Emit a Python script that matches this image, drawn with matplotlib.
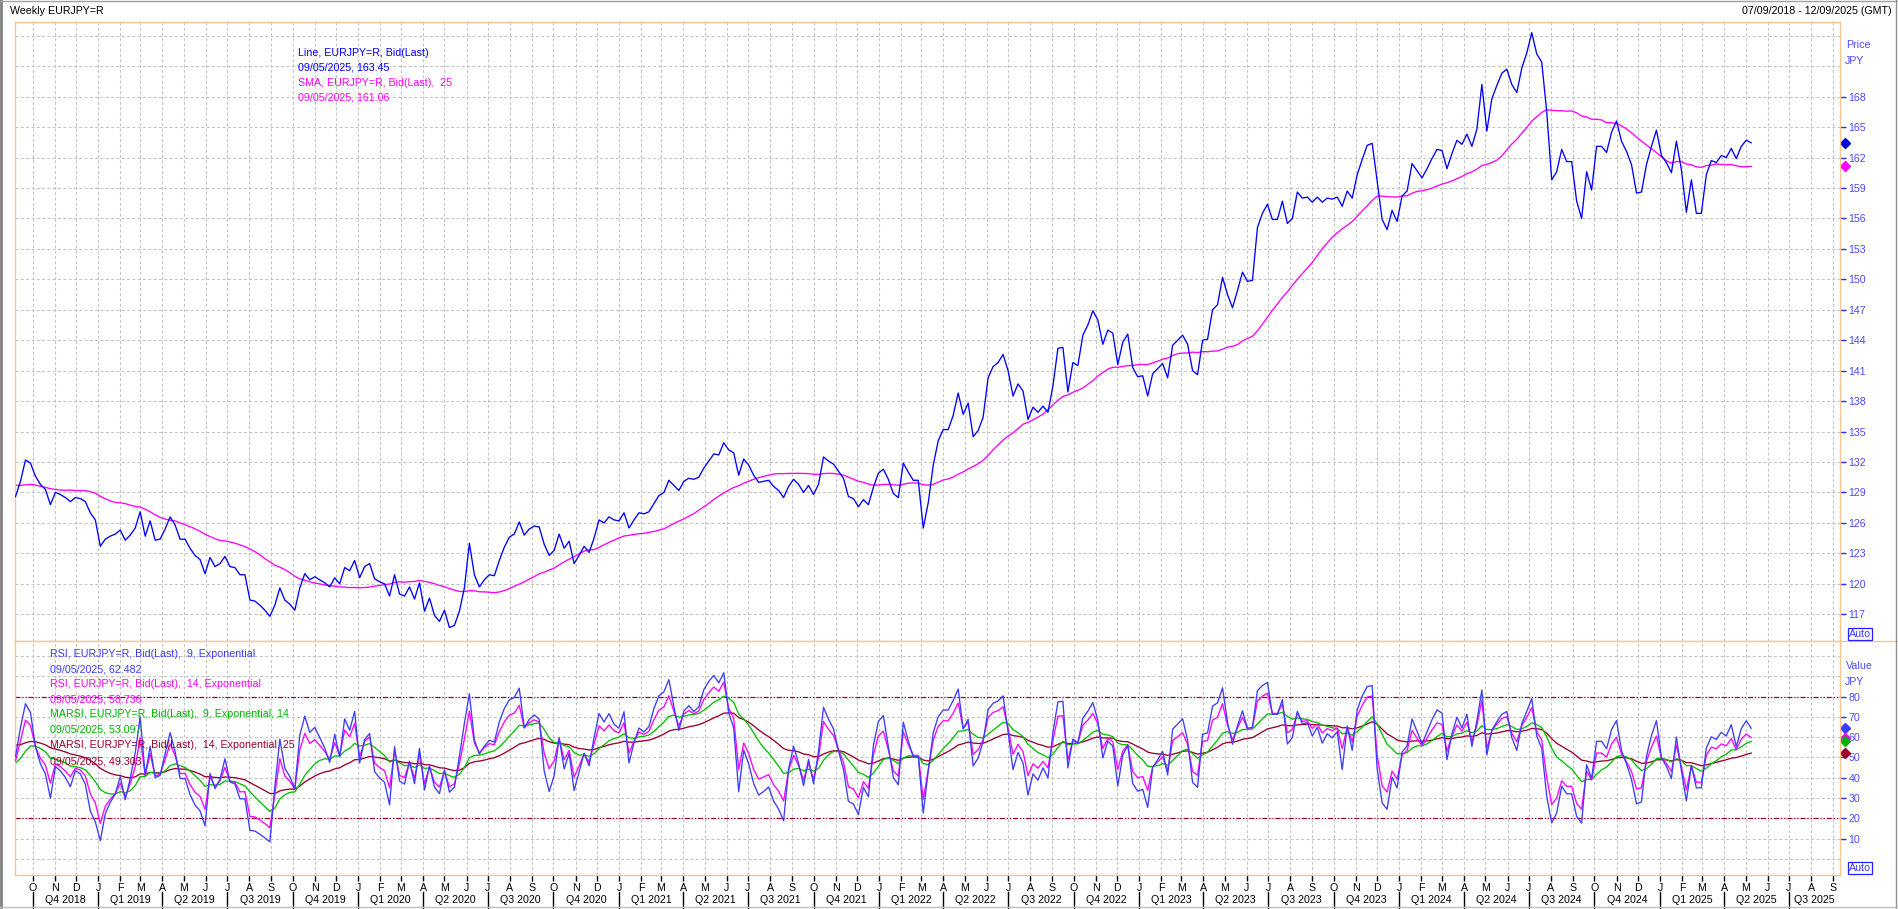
import numpy as np
import pandas as pd
import matplotlib
matplotlib.use("Agg")
import matplotlib.pyplot as plt
from matplotlib.transforms import blended_transform_factory
from matplotlib.lines import Line2D

plt.rcParams['font.family'] = ['Liberation Sans', 'DejaVu Sans']

# ---------------- data ----------------
start_date = "2018-09-07"
warmup_start = "2018-03-16"
# 25 weekly closes before the visible range (needed by SMA 25 / RSI)
warmup_prices = [130.3, 130.5, 131.0, 130.8, 132.3, 132.6, 132.1, 131.1, 130.5, 130.7,
                 128.9, 127.6, 129.8, 128.4, 128.3, 129.4, 130.3, 131.2, 130.6, 129.6,
                 128.8, 126.4, 126.0, 128.7, 128.8]
# weekly EURJPY closes, 07/09/2018 .. 09/05/2025
prices = [
    128.6, 130.1, 132.2, 131.9, 130.6, 129.8, 129.3, 127.8, 129.0, 128.8,
    128.5, 128.1, 128.5, 128.4, 128.1, 127.0, 126.3,
    123.7, 124.4, 124.7, 124.9, 125.3, 124.3, 124.8, 125.5, 127.1, 124.7,
    126.2, 124.3, 124.4, 125.4, 126.6, 125.8, 124.4, 124.4, 123.5, 122.8,
    122.4, 121.0, 122.6, 121.7, 122.0, 122.7, 121.7, 121.6, 120.9, 120.9,
    118.4, 118.3, 117.9, 117.4, 116.8, 117.9, 119.6, 118.4, 118.0, 117.4,
    119.6, 121.0, 120.4, 120.7, 120.4, 120.1, 119.7, 120.6, 120.0, 121.6,
    121.3, 122.3, 120.6, 121.7, 122.0, 120.5, 120.2, 120.0, 118.8, 120.9,
    119.0, 118.8, 119.7, 118.5, 120.1, 117.3, 118.6, 116.9, 116.3, 117.4,
    115.7, 115.9, 117.3, 119.6, 124.0, 120.9, 119.7, 120.4, 120.9, 120.8,
    122.3, 123.6, 124.6, 124.9, 126.1, 124.8, 125.4, 125.7, 125.6, 123.9,
    122.8, 123.3, 124.9, 123.5, 124.2, 122.0, 122.8, 123.7, 123.1, 124.5,
    126.3, 126.0, 126.6, 126.3, 126.2, 127.0, 125.5, 126.3, 127.0, 126.9,
    127.1, 127.9, 128.7, 129.0, 130.2, 129.7, 129.2, 130.1, 130.4, 130.3,
    130.5, 131.4, 132.1, 132.8, 132.7, 133.9, 133.2, 132.9, 130.7, 132.3,
    131.7, 130.7, 130.0, 130.1, 130.2, 129.6, 129.2, 128.5, 129.6, 130.3,
    129.8, 129.0, 129.7, 128.8, 129.8, 132.5, 132.1, 131.8, 131.1, 130.4,
    128.6, 128.4, 127.6, 128.3, 127.8, 129.5, 130.9, 131.3, 130.3, 128.9,
    128.5, 131.9, 131.0, 130.2, 130.2, 125.5, 128.0, 131.7, 134.1, 135.2,
    135.2, 136.6, 138.8, 136.7, 137.8, 134.5, 135.1, 136.4, 140.3, 141.4,
    141.8, 142.6, 141.0, 138.5, 139.7, 139.0, 136.2, 137.4, 136.9, 137.5,
    136.9, 139.5, 143.2, 143.3, 138.9, 141.8, 141.5, 144.5, 145.5, 146.9,
    146.0, 143.6, 145.0, 144.7, 141.6, 143.8, 144.6, 141.3, 140.4, 140.5,
    138.5, 140.7, 141.2, 141.7, 140.3, 143.5, 144.0, 144.5, 143.6, 141.0,
    140.6, 144.0, 144.1, 147.0, 147.5, 150.2, 148.5, 147.2, 148.9, 150.7,
    149.8, 149.9, 155.1, 156.5, 157.4, 155.9, 155.9, 157.7, 155.5, 156.0,
    158.6, 158.0, 158.1, 157.6, 158.1, 157.6, 158.0, 157.9, 158.1, 157.2,
    158.7, 158.0, 160.3, 161.8, 163.2, 163.4, 159.7, 155.9, 154.9, 156.8,
    155.7, 158.2, 158.7, 161.4, 160.7, 160.0, 160.9, 161.9, 162.8, 162.7,
    160.9, 162.4, 163.7, 163.3, 164.3, 163.1, 164.8, 169.2, 164.6, 167.8,
    169.1, 170.3, 170.7, 169.2, 168.4, 170.8, 172.3, 174.3, 172.2, 171.4,
    166.5, 159.8, 160.6, 162.8, 161.6, 161.6, 157.7, 156.0, 160.6, 158.8,
    163.1, 163.1, 162.5, 164.5, 165.6, 163.6, 162.6, 161.3, 158.5, 158.6,
    161.3, 163.1, 164.7, 162.2, 161.5, 160.5, 163.6, 160.8, 156.6, 159.8,
    156.5, 156.5, 160.3, 161.7, 161.5, 162.2, 162.0, 162.9, 161.9, 163.1,
    163.7, 163.45,
]
price_ticks = list(range(117, 169, 3))
value_ticks = list(range(10, 81, 10))
month_letters = ["J", "F", "M", "A", "M", "J", "J", "A", "S", "O", "N", "D"]

legend_price = ["Line, EURJPY=R, Bid(Last)", "09/05/2025, 163.45",
                "SMA, EURJPY=R, Bid(Last),  25", "09/05/2025, 161.06"]
legend_ind = ["RSI, EURJPY=R, Bid(Last),  9, Exponential", "09/05/2025, 62.482",
              "RSI, EURJPY=R, Bid(Last),  14, Exponential", "09/05/2025, 58.736",
              "MARSI, EURJPY=R, Bid(Last),  9, Exponential, 14", "09/05/2025, 53.097",
              "MARSI, EURJPY=R, Bid(Last),  14, Exponential, 25", "09/05/2025, 49.303"]

# ---------------- indicators ----------------
full = pd.Series(warmup_prices + prices,
                 index=pd.date_range(warmup_start, periods=len(warmup_prices) + len(prices), freq="W-FRI"))
sma = full.rolling(25).mean()


def rsi(s, n):
    d = s.diff()
    up = d.clip(lower=0)
    dn = (-d).clip(lower=0)
    au = up.ewm(span=n, adjust=False).mean()
    ad = dn.ewm(span=n, adjust=False).mean()
    return 100 * au / (au + ad)


rsi9 = rsi(full, 9)
rsi14 = rsi(full, 14)
marsi9 = rsi9.ewm(span=14, adjust=False).mean()
marsi14 = rsi14.ewm(span=25, adjust=False).mean()

nv = len(prices)
dates = full.index[-nv:]
sma_v = sma.values[-nv:]
r9 = rsi9.values[-nv:]
r14 = rsi14.values[-nv:]
m9 = marsi9.values[-nv:]
m14 = marsi14.values[-nv:]

# ---------------- figure ----------------
W, H = 1898, 909
fig = plt.figure(figsize=(W / 100, H / 100), dpi=100)
fig.patch.set_facecolor("white")
FS = 7.7


def fx(px):
    return px / W


def fy(py):
    return 1 - py / H


L, R = 14.5, 1840
T1, B1, B2 = 21.5, 641, 875
ax1 = fig.add_axes([fx(L), fy(B1), (R - L) / W, (B1 - T1) / H])
ax2 = fig.add_axes([fx(L), fy(B2), (R - L) / W, (B2 - B1) / H])

orange = "#f8c58f"
grid_c = "#c4c4c4"
dash = (0, (2.9, 2.2))
tick_blue = "#2b2bff"
lab_blue = "#4b4bff"

x0 = pd.Timestamp(start_date) - pd.Timedelta(days=1.4)
x1 = x0 + pd.Timedelta(weeks=366)
months = pd.date_range("2018-10-01", "2025-09-01", freq="MS")

for ax in (ax1, ax2):
    ax.set_xlim(x0, x1)
    for sp in ax.spines.values():
        sp.set_color(orange)
        sp.set_linewidth(1.0)
    for m in months:
        ax.axvline(m, color=grid_c, lw=0.75, ls=dash, zorder=0)

# price panel
for v in range(117, 176, 3):
    ax1.axhline(v, color=grid_c, lw=0.75, ls=dash, zorder=0)
ax1.plot(dates, prices, color="#0000ff", lw=0.95, zorder=3)
ax1.plot(dates, sma_v, color="#ff00ff", lw=0.95, zorder=2)
ax1.set_ylim(114.37, 175.4)
ax1.yaxis.tick_right()
ax1.set_yticks(price_ticks)
ax1.set_yticklabels([str(t) for t in price_ticks])
ax1.tick_params(axis="y", length=4, width=1, color=tick_blue, labelcolor=lab_blue,
                labelsize=FS, pad=2, direction="out")
ax1.tick_params(axis="x", bottom=False, labelbottom=False)

# indicator panel
for v in range(0, 101, 10):
    ax2.axhline(v, color=grid_c, lw=0.75, ls=dash, zorder=0)
for v in (80, 20):
    ax2.axhline(v, color="#a00030", lw=0.9, ls=(0, (4, 1.5, 1, 1.5, 1, 1.5)), zorder=1)
ax2.plot(dates, m14, color="#99002e", lw=0.95, zorder=2)
ax2.plot(dates, m9, color="#00c000", lw=0.95, zorder=2)
ax2.plot(dates, r14, color="#ff00ff", lw=0.95, zorder=3)
ax2.plot(dates, r9, color="#3c3cff", lw=0.95, zorder=4)
ax2.set_ylim(-7.9, 107.4)
ax2.yaxis.tick_right()
ax2.set_yticks(value_ticks)
ax2.set_yticklabels([str(t) for t in value_ticks])
ax2.tick_params(axis="y", length=4, width=1, color=tick_blue, labelcolor=lab_blue,
                labelsize=FS, pad=2, direction="out")
ax2.set_xticks(months)
ax2.set_xticklabels([month_letters[m.month - 1] for m in months])
ax2.tick_params(axis="x", length=4, width=1, color="black", labelcolor="black",
                labelsize=FS, pad=1.5, direction="out")

# quarter labels & separators
btr = blended_transform_factory(ax2.transData, fig.transFigure)
qstarts = pd.date_range("2018-10-01", "2025-07-01", freq="QS")
for q in qstarts:
    qend = q + pd.DateOffset(months=3)
    end = min(qend, x1)
    center = q + (end - q) / 2
    ax2.text(center, fy(900), f"Q{(q.month - 1) // 3 + 1} {q.year}", transform=btr,
             ha="center", va="center", fontsize=FS, color="black", clip_on=False)
    ax2.add_line(Line2D([q, q], [fy(892), fy(908)], transform=btr, color="black",
                        lw=1, clip_on=False))

# separator extending to the right
fig.add_artist(Line2D([fx(R), 1], [fy(B1), fy(B1)], color=orange, lw=1.0))

# last value markers
tr1 = blended_transform_factory(ax1.transAxes, ax1.transData)
tr2 = blended_transform_factory(ax2.transAxes, ax2.transData)
dx = 1 + 5.5 / (R - L)
ax1.plot([dx], [prices[-1]], marker="D", ms=5, color="#0000d0", transform=tr1, clip_on=False)
ax1.plot([dx], [sma_v[-1]], marker="D", ms=5, color="#ff00ff", transform=tr1, clip_on=False)
for val, c in ((r9[-1], "#3c3cff"), (r14[-1], "#ff00ff"), (m9[-1], "#00b000"), (m14[-1], "#99002e")):
    ax2.plot([dx], [val], marker="D", ms=5, color=c, transform=tr2, clip_on=False)

# axis captions
fig.text(fx(1846), fy(45), "Price", color=lab_blue, fontsize=FS, va="center")
fig.text(fx(1845), fy(61), "JPY", color=lab_blue, fontsize=FS, va="center")
fig.text(fx(1846), fy(666), "Value", color=lab_blue, fontsize=FS, va="center")
fig.text(fx(1845), fy(682), "JPY", color=lab_blue, fontsize=FS, va="center")
for yy in (634, 868):
    fig.text(fx(1849), fy(yy), "Auto", color="#3a3aff", fontsize=FS, va="center",
             bbox=dict(boxstyle="square,pad=0.12", fc="white", ec="#2020ff", lw=0.9))

# legends
pcol = ["#0000ff", "#0000ff", "#ff00ff", "#ff00ff"]
for k, (t, c) in enumerate(zip(legend_price, pcol)):
    fig.text(fx(298), fy(53 + 15 * k), t, color=c, fontsize=FS, va="center")
icol = ["#3c3cff", "#3c3cff", "#ff00ff", "#ff00ff", "#00b400", "#00b400", "#99002e", "#99002e"]
iy = [654, 669, 684, 699, 714, 730, 745, 761]
for t, c, yy in zip(legend_ind, icol, iy):
    fig.text(fx(50), fy(yy), t, color=c, fontsize=FS, va="center")

# titles
fig.text(fx(10), fy(11), "Weekly EURJPY=R", color="black", fontsize=FS, va="center")
fig.text(fx(1892), fy(11), "07/09/2018 - 12/09/2025 (GMT)", color="black", fontsize=FS,
         va="center", ha="right")

# window frame
fig.add_artist(Line2D([fx(1), fx(1)], [0, 1], color="#808080", lw=2))
fig.add_artist(Line2D([0, 1], [fy(0.5), fy(0.5)], color="#a0a0a0", lw=1))
fig.add_artist(Line2D([fx(1895.5), fx(1895.5)], [0, 1], color="#909090", lw=1))
fig.add_artist(Line2D([0, 1], [fy(907), fy(907)], color="#c0c0c0", lw=1))

fig.savefig("out.png", dpi=100)
